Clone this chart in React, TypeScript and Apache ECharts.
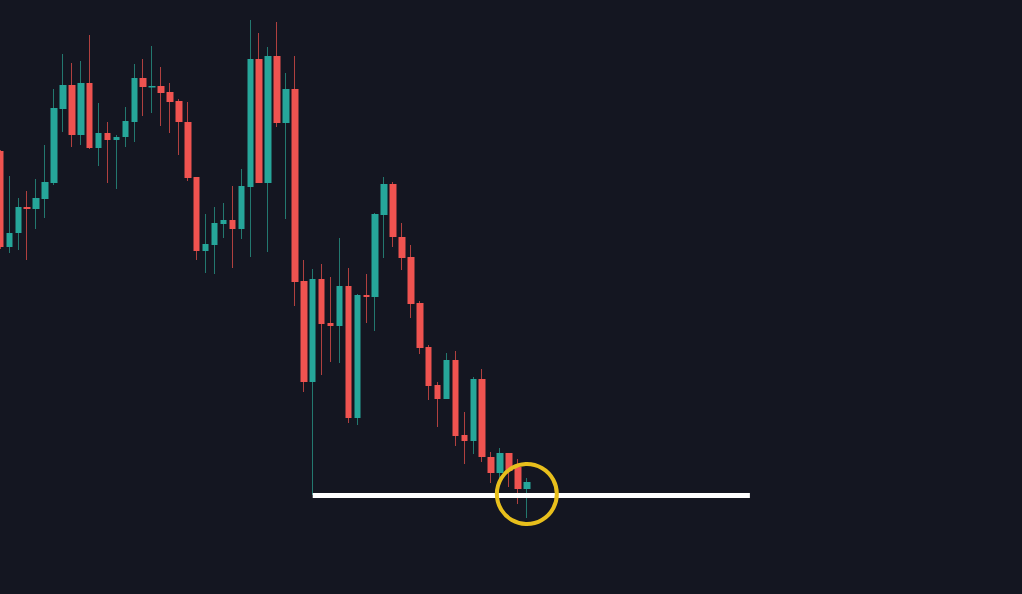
import React, { useEffect, useRef } from "react";
import * as echarts from "echarts";

// Candle values: [open, close, low, high] split into named arrays
const opens = [
  449, 353, 367, 393, 391, 401, 417, 491, 515, 465,
  517, 452, 467, 460, 463, 478, 522, 512.5, 514, 508,
  499, 478, 423, 349, 355, 376, 380, 371, 413, 541,
  417, 544, 477, 511, 319, 218, 321, 277, 274, 314,
  182, 305, 303, 385, 416, 363, 343, 297, 253, 215,
  201, 240, 165, 159, 221, 143, 127, 147, 133, 111,
];
const closes = [
  353, 367, 393, 391, 402, 418, 492, 515, 465, 517,
  452, 467, 460, 463, 479, 522, 513, 514, 507, 498,
  478, 422, 349, 356, 377, 380, 371, 414, 541, 417,
  544, 477, 511, 318, 218, 321, 276, 274, 314, 182,
  305, 303, 386, 416, 363, 342, 296, 252, 214, 201,
  240, 164, 159, 221, 143, 127, 147, 129, 111, 118,
];
const lows = [
  351, 347, 350, 340, 371, 382, 415, 468, 453, 455,
  451, 434, 417, 411, 453, 458, 484, 487, 474, 467,
  445, 419, 340, 327, 326, 362, 332, 361, 343, 417,
  348, 473, 381, 294, 208, 105, 225, 238, 237, 177,
  175, 277, 269, 342, 353, 330, 282, 246, 200, 173,
  201, 154, 136, 146, 138, 117, 120, 113, 96, 82,
];
const highs = [
  450, 424, 402, 409, 421, 455, 511, 546, 537, 539,
  565, 497, 478, 465, 493, 536, 541, 554, 533, 517,
  501, 498, 423, 386, 393, 397, 414, 431, 580, 567,
  553, 578, 527, 544, 340, 331, 336, 323, 362, 332,
  306, 326, 387, 423, 418, 377, 355, 299, 255, 218,
  247, 249, 188, 223, 231, 148, 152, 147, 141, 122,
];

const TOTAL_SLOTS = 115; // candles plus empty room on the right
const categories = Array.from({ length: TOTAL_SLOTS }, (_, i) => `${i + 1}`);

const SUPPORT_LEVEL = 104.5;
const SUPPORT_FROM = 35;
const SUPPORT_TO = 84;
const FOCUS_INDEX = 59;
const FOCUS_PRICE = 106;

const PRICE_MIN = 6;
const PRICE_MAX = 600;

const UP = "#26a69a";
const DOWN = "#ef5350";
const WICK_UP = "#23786f";
const WICK_DOWN = "#b0403f";
const BG = "#141621";

const BAND = 8.924;

export default function App() {
  const ref = useRef<HTMLDivElement>(null);

  useEffect(() => {
    if (!ref.current) return;
    const chart = echarts.init(ref.current, undefined, { renderer: "svg" });

    const full = opens.map((o, i) => [o, closes[i], lows[i], highs[i]]);
    const bodies = opens.map((o, i) => [
      o,
      closes[i],
      Math.min(o, closes[i]),
      Math.max(o, closes[i]),
    ]);

    chart.setOption({
      animation: false,
      backgroundColor: BG,
      grid: {
        left: 0,
        right: 0,
        top: 0,
        bottom: 0,
        containLabel: false,
      },
      xAxis: {
        type: "category",
        data: categories,
        show: false,
        boundaryGap: true,
      },
      yAxis: {
        type: "value",
        min: PRICE_MIN,
        max: PRICE_MAX,
        show: false,
        splitLine: { show: false },
      },
      series: [
        {
          type: "candlestick",
          name: "wicks",
          data: full,
          barWidth: 0.1,
          silent: true,
          itemStyle: {
            color: WICK_UP,
            color0: WICK_DOWN,
            borderColor: WICK_UP,
            borderColor0: WICK_DOWN,
            borderWidth: 1,
          },
        },
        {
          type: "candlestick",
          name: "bodies",
          data: bodies,
          barWidth: 7,
          silent: true,
          itemStyle: {
            color: UP,
            color0: DOWN,
            borderColor: UP,
            borderColor0: DOWN,
            borderWidth: 0,
          },
          markLine: {
            silent: true,
            symbol: ["none", "none"],
            label: { show: false },
            lineStyle: { color: "#ffffff", width: 5, type: "solid" },
            data: [
              [
                { coord: [categories[SUPPORT_FROM], SUPPORT_LEVEL] },
                { coord: [categories[SUPPORT_TO], SUPPORT_LEVEL] },
              ],
            ],
          },
          markPoint: {
            silent: true,
            symbol: "circle",
            symbolSize: 60,
            label: { show: false },
            itemStyle: {
              color: "rgba(0,0,0,0)",
              borderColor: "#e8bf1c",
              borderWidth: 4,
            },
            data: [{ coord: [categories[FOCUS_INDEX], FOCUS_PRICE] }],
          },
        },
      ],
    });

    return () => chart.dispose();
  }, []);

  return (
    <div
      style={{
        position: "fixed",
        left: 0,
        top: 0,
        width: 1022,
        height: 594,
        overflow: "hidden",
        background: BG,
      }}
    >
      <div
        ref={ref}
        style={{
          position: "absolute",
          left: -BAND / 2,
          top: 0,
          width: BAND * TOTAL_SLOTS,
          height: 594,
        }}
      />
    </div>
  );
}
